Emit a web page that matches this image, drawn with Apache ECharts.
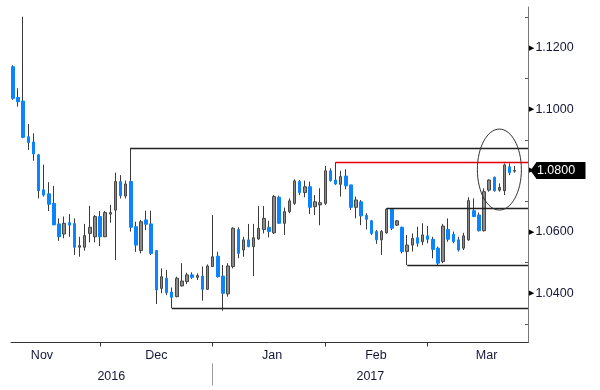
<!DOCTYPE html>
<html><head><meta charset="utf-8">
<script src="https://cdn.jsdelivr.net/npm/echarts@6/dist/echarts.min.js"></script>
<style>html,body{margin:0;padding:0;background:#fff}#c{width:600px;height:390px}</style>
</head><body><div id="c"></div>
<script>
// EUR/USD daily candles, Nov 7 2016 .. Mar 23 2017 (index = trading day)
const opens  = [1.1138,1.1038,1.1026,1.0910,1.0893,1.0851,1.0737,1.0724,1.0693,1.0626,
                1.0593,1.0630,1.0627,1.0550,1.0550,1.0595,1.0584,1.0650,1.0584,1.0658,
                1.0671,1.0764,1.0717,1.0764,1.0617,1.0539,1.0639,1.0626,1.0539,1.0416,
                1.0449,1.0404,1.0389,1.0424,1.0438,1.0460,1.0452,1.0456,1.0413,1.0487,
                1.0521,1.0456,1.0398,1.0487,1.0608,1.0541,1.0574,1.0552,1.0577,1.0608,
                1.0615,1.0597,1.0713,1.0628,1.0666,1.0693,1.0764,1.0728,1.0747,1.0682,
                1.0688,1.0693,1.0799,1.0769,1.0755,1.0782,1.0753,1.0680,1.0698,1.0654,
                1.0636,1.0601,1.0574,1.0597,1.0674,1.0622,1.0615,1.0536,1.0557,1.0581,
                1.0568,1.0587,1.0576,1.0547,1.0503,1.0608,1.0592,1.0574,1.0547,1.0574,
                1.0669,1.0655,1.0604,1.0736,1.0778,1.0736,1.0734,1.0812,1.0798];
const highs  = [1.1143,1.1068,1.1301,1.0951,1.0921,1.0854,1.0819,1.0762,1.0750,1.0644,
                1.0650,1.0658,1.0644,1.0584,1.0626,1.0685,1.0655,1.0668,1.0668,1.0688,
                1.0793,1.0785,1.0767,1.0874,1.0633,1.0639,1.0669,1.0669,1.0541,1.0481,
                1.0476,1.0419,1.0454,1.0498,1.0467,1.0468,1.0465,1.0487,1.0494,1.0655,
                1.0535,1.0492,1.0498,1.0615,1.0615,1.0584,1.0626,1.0626,1.0684,1.0684,
                1.0636,1.0720,1.0718,1.0679,1.0709,1.0771,1.0769,1.0767,1.0764,1.0720,
                1.0742,1.0815,1.0807,1.0827,1.0799,1.0804,1.0753,1.0715,1.0704,1.0661,
                1.0639,1.0606,1.0606,1.0677,1.0677,1.0639,1.0617,1.0590,1.0595,1.0617,
                1.0628,1.0619,1.0584,1.0552,1.0626,1.0644,1.0601,1.0584,1.0597,1.0713,
                1.0709,1.0663,1.0742,1.0771,1.0780,1.0758,1.0823,1.0823,1.0815];
const lows   = [1.1030,1.1008,1.0905,1.0867,1.0832,1.0709,1.0715,1.0668,1.0622,1.0571,
                1.0579,1.0584,1.0525,1.0519,1.0539,1.0566,1.0566,1.0554,1.0584,1.0630,
                1.0508,1.0709,1.0709,1.0601,1.0535,1.0530,1.0606,1.0525,1.0365,1.0400,
                1.0394,1.0352,1.0387,1.0422,1.0430,1.0447,1.0443,1.0376,1.0411,1.0487,
                1.0451,1.0343,1.0389,1.0481,1.0514,1.0519,1.0550,1.0456,1.0574,1.0595,
                1.0582,1.0593,1.0627,1.0590,1.0661,1.0688,1.0720,1.0713,1.0658,1.0655,
                1.0622,1.0688,1.0764,1.0753,1.0715,1.0739,1.0671,1.0644,1.0622,1.0608,
                1.0590,1.0561,1.0525,1.0594,1.0606,1.0619,1.0530,1.0492,1.0536,1.0552,
                1.0557,1.0563,1.0514,1.0492,1.0498,1.0568,1.0563,1.0536,1.0541,1.0571,
                1.0648,1.0601,1.0601,1.0731,1.0731,1.0731,1.0720,1.0785,1.0793];
const closes = [1.1035,1.1024,1.0908,1.0891,1.0854,1.0734,1.0720,1.0690,1.0623,1.0584,
                1.0628,1.0622,1.0550,1.0555,1.0588,1.0615,1.0650,1.0584,1.0663,1.0663,
                1.0764,1.0718,1.0756,1.0615,1.0557,1.0633,1.0625,1.0530,1.0411,1.0454,
                1.0402,1.0387,1.0449,1.0440,1.0460,1.0452,1.0458,1.0413,1.0489,1.0519,
                1.0454,1.0400,1.0489,1.0612,1.0530,1.0574,1.0552,1.0581,1.0612,1.0644,
                1.0601,1.0715,1.0628,1.0666,1.0701,1.0766,1.0728,1.0747,1.0680,1.0698,
                1.0695,1.0799,1.0767,1.0756,1.0780,1.0750,1.0680,1.0704,1.0652,1.0641,
                1.0595,1.0574,1.0601,1.0674,1.0612,1.0636,1.0536,1.0557,1.0579,1.0563,
                1.0590,1.0576,1.0543,1.0498,1.0619,1.0576,1.0568,1.0541,1.0587,1.0702,
                1.0650,1.0604,1.0731,1.0769,1.0734,1.0745,1.0818,1.0793,1.0800];

// axis labels / ticks (positions in trading-day index units)
const monthLabels  = ['Nov','Dec','Jan','Feb','Mar'];
const monthLabelAt = [5.66, 28.0, 50.6, 70.9, 92.5];
const monthTickAt  = [17, 39, 61, 81];
const yearLabels   = ['2016','2017'];
const yearLabelAt  = [19.2, 69.8];
const yearTickAt   = [39];
const priceLabels  = [1.04, 1.06, 1.08, 1.10, 1.12];
const priceMinorTicks = [1.03, 1.05, 1.07, 1.09, 1.11, 1.13];

// annotation levels: horizontal line from a candle's high/low to the right edge
const levelFrom = [23, 31, 63, 73, 77];
const levelUse  = ['high', 'low', 'high', 'high', 'low'];

const FONT = "'Liberation Sans','Arial',sans-serif";
const FS = 12.5;
const TXT = '#15153a';
const xMin = -0.39, xMax = 100.59;
const yMin = 1.02397, yMax = 1.13326;

const idx = opens.map((_, i) => i);
const wickData = idx.map(i => [i, opens[i], closes[i], lows[i], highs[i]]);
const bodyData = idx.map(i => [i, opens[i], closes[i], Math.min(opens[i], closes[i]), Math.max(opens[i], closes[i])]);
const levelColors = ['#222', '#222', '#e60000', '#222', '#222'];
const levelLines = levelFrom.map((k, j) => {
  const v = levelUse[j] === 'high' ? highs[k] : lows[k];
  const ls = {color: levelColors[j], width: 1.3, type: 'solid'};
  return [{coord: [k, v], lineStyle: ls}, {coord: [xMax, v], lineStyle: ls}];
});
const near = (arr, v) => arr.findIndex(a => Math.abs(a - v) < 1e-6);
const last = closes.length - 1;

const chart = echarts.init(document.getElementById('c'), null, {renderer: 'canvas'});
chart.setOption({
  animation: false,
  backgroundColor: '#fff',
  grid: {left: 11, right: 72, top: 7, bottom: 47.5},
  xAxis: [
    {type: 'value', min: xMin, max: xMax, position: 'bottom',
     axisLine: {show: true, onZero: false, lineStyle: {color: '#333', width: 1}},
     axisTick: {show: true, customValues: monthTickAt, length: 4, lineStyle: {color: '#333'}},
     axisLabel: {show: true, customValues: monthLabelAt, margin: 7,
       formatter: v => { const k = near(monthLabelAt, v); return k >= 0 ? monthLabels[k] : ''; },
       fontFamily: FONT, fontSize: FS, color: TXT},
     splitLine: {show: false}},
    {type: 'value', min: xMin, max: xMax, position: 'bottom', offset: 21,
     axisLine: {show: false, onZero: false},
     axisTick: {show: true, customValues: yearTickAt, length: 22, lineStyle: {color: '#999'}},
     axisLabel: {show: true, customValues: yearLabelAt, margin: 7,
       formatter: v => { const k = near(yearLabelAt, v); return k >= 0 ? yearLabels[k] : ''; },
       fontFamily: FONT, fontSize: FS, color: TXT},
     splitLine: {show: false}}
  ],
  yAxis: {type: 'value', position: 'right', min: yMin, max: yMax,
    axisLine: {show: true, onZero: false, lineStyle: {color: '#777', width: 1}},
    axisTick: {show: true, inside: true, customValues: priceMinorTicks, length: 3, lineStyle: {color: '#555'}},
    axisLabel: {show: true, customValues: priceLabels, margin: 1,
      formatter: v => '{t|\u25B6}{v|' + v.toFixed(4) + '}',
      rich: {t: {fontSize: 7, color: '#000', fontFamily: 'DejaVu Sans', padding: [0, 1, 0, 0]},
             v: {fontSize: FS, fontFamily: FONT, color: TXT}}},
    splitLine: {show: false}},
  series: [
    {type: 'candlestick', name: 'wick', data: wickData, encode: {x: 0, y: [1, 2, 3, 4]},
     barWidth: 1, z: 2,
     itemStyle: {color: '#3a3a3a', color0: '#3a3a3a', borderColor: '#3a3a3a', borderColor0: '#3a3a3a', borderWidth: 1},
     markLine: {silent: true, symbol: ['none', 'none'], label: {show: false}, animation: false,
       data: levelLines}},
    {type: 'candlestick', name: 'body', data: bodyData, encode: {x: 0, y: [1, 2, 3, 4]},
     barWidth: 3, z: 3, clip: false,
     itemStyle: {color: '#8a8a8a', color0: '#0a84ff', borderColor: '#474747', borderColor0: '#0a84ff', borderWidth: 1},
     markPoint: {silent: true, animation: false,
       symbol: 'path://M0,8.5 L6,0 L55,0 L55,17 L6,17 Z', symbolKeepAspect: false,
       symbolSize: [55, 17], symbolOffset: [30, 0],
       itemStyle: {color: '#000'},
       label: {show: true, position: 'inside', offset: [-2, 0], color: '#fff',
         fontFamily: FONT, fontSize: FS, formatter: p => Number(p.value).toFixed(4)},
       data: [{coord: [xMax, closes[last]], value: closes[last]}]}}
  ]
});

// circled area around the latest candles
const ctr = chart.convertToPixel({xAxisIndex: 0, yAxisIndex: 0}, [95.0, 1.0803]);
chart.setOption({graphic: [{type: 'ellipse', silent: true, z: 10,
  shape: {cx: ctr[0], cy: ctr[1], rx: 22, ry: 40.5},
  style: {fill: 'none', stroke: '#333', lineWidth: 1}}]});
</script></body></html>
